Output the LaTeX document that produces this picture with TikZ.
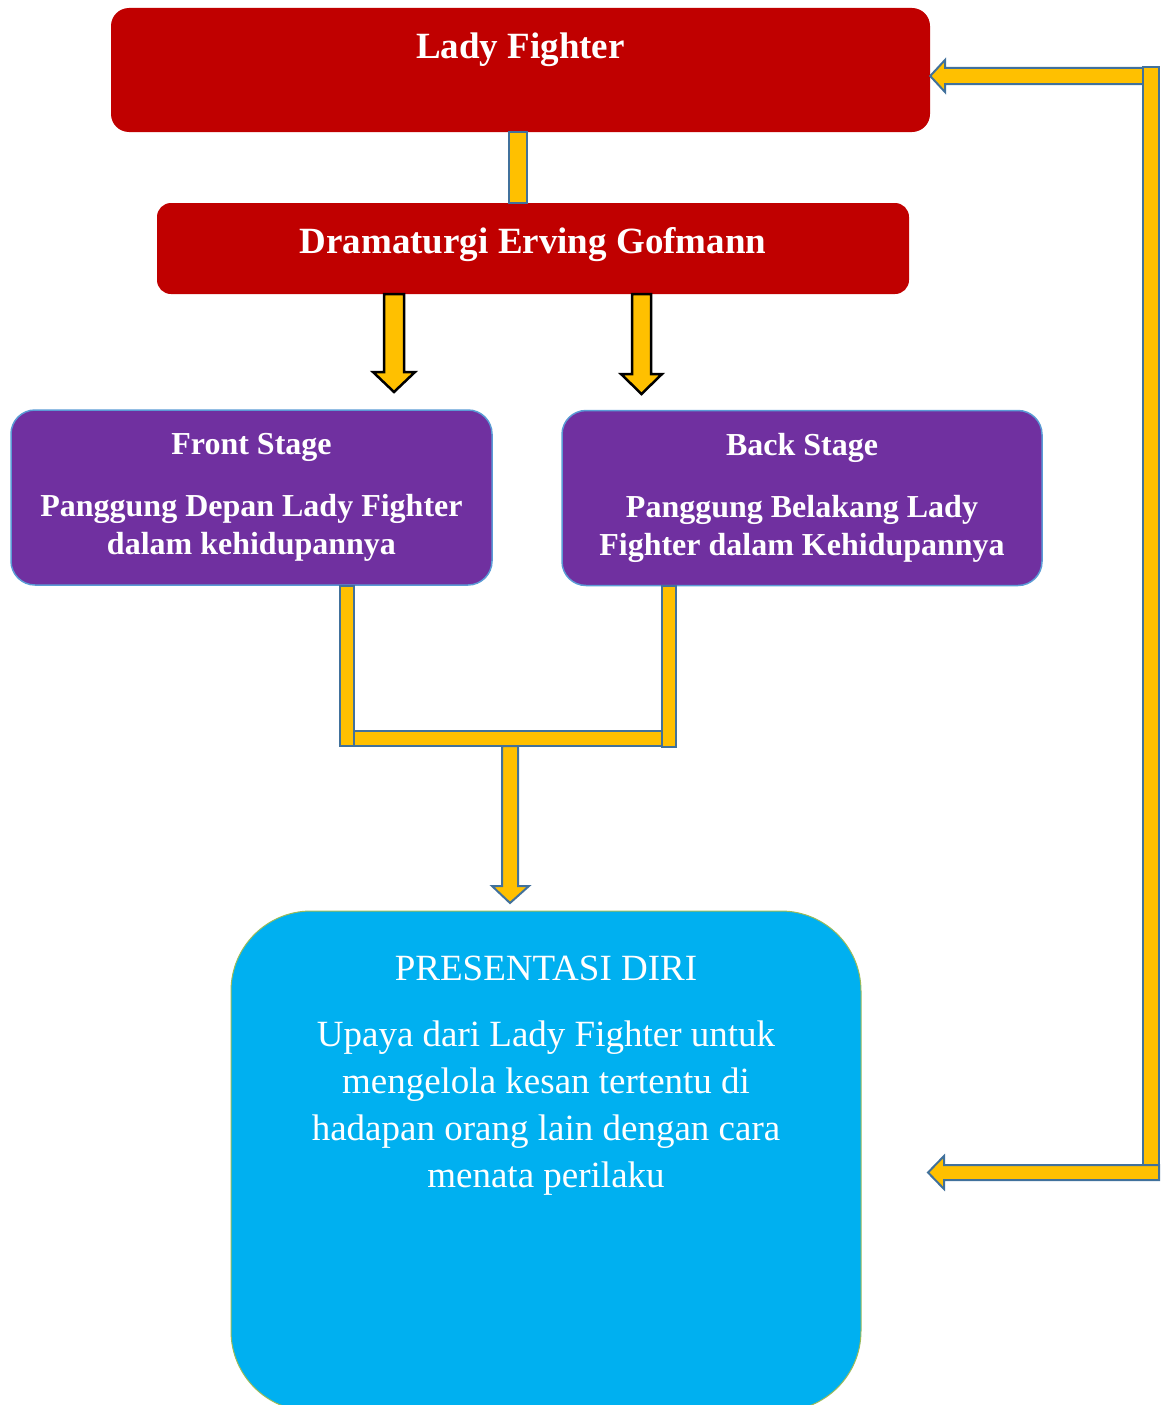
\documentclass[tikz,border=0pt]{standalone}
\usepackage{fontspec}
\setmainfont{Liberation Serif}
\usetikzlibrary{positioning}

\definecolor{ladyred}{HTML}{C00000}
\definecolor{stagepurple}{HTML}{7030A0}
\definecolor{stageedge}{HTML}{5B9BD5}
\definecolor{selfblue}{HTML}{00B0F0}
\definecolor{selfedge}{HTML}{9BBB59}
\definecolor{baryellow}{HTML}{FFC000}
\definecolor{baredge}{HTML}{41719C}

\begin{document}
\begin{tikzpicture}[x=1pt, y=-1pt,
  redbox/.style={rectangle, fill=ladyred, text=white, inner sep=0pt, font=\fontsize{37}{44}\selectfont\bfseries},
  stagebox/.style={rectangle, rounded corners=24pt, fill=stagepurple, draw=stageedge, line width=1.5pt, text=white, inner sep=0pt, align=center, minimum width=480pt, minimum height=175pt, font=\fontsize{32}{38}\selectfont\bfseries},
  selfbox/.style={rectangle, rounded corners=80pt, fill=selfblue, draw=selfedge, line width=1pt, minimum width=630pt, minimum height=500pt},
  selftext/.style={text=white, inner sep=0pt, align=center, font=\fontsize{37}{46.7}\selectfont},
  ybar/.style={fill=baryellow, draw=baredge, line width=2pt, line join=miter},
  karrow/.style={fill=baryellow, draw=black, line width=2.5pt, line join=miter}]
  \useasboundingbox (0,0) rectangle (1160,1405);
  \clip (0,0) rectangle (1160,1405);

  \node[redbox, rounded corners=18pt, minimum width=819pt, text height=51pt, text depth=73pt] (lady) at (520.5,70) {Lady Fighter};
  \node[redbox, rounded corners=14pt, minimum width=752pt, text height=50.5pt, text depth=40.5pt] (drama) at (533,248.5) {Dramaturgi Erving Gofmann};
  \node[stagebox, minimum width=481pt] (front) at (251.5,497.5) {Front Stage\\[24pt]Panggung Depan Lady Fighter\\dalam kehidupannya};
  \node[stagebox] (back) at (802,498) {Back Stage\\[24pt]Panggung Belakang Lady\\Fighter dalam Kehidupannya};
  \node[selfbox] (self) at (546,1161) {};
  \node[selftext, below=45pt of self.north] (selfnote) {PRESENTASI DIRI\\[20pt]Upaya dari Lady Fighter untuk\\mengelola kesan tertentu di\\hadapan orang lain dengan cara\\menata perilaku};

  \draw[ybar] (lady.south -| 509,0) rectangle (drama.north -| 527,0);

  \draw[karrow] (drama.south -| 384,0) -- (384,372) -- (373,372) -- (394,392) -- (415,372) -- (404,372) -- (drama.south -| 404,0) -- cycle;
  \draw[karrow] (drama.south -| 632,0) -- (632,374) -- (621,374) -- (641.5,394) -- (662,374) -- (651,374) -- (drama.south -| 651,0) -- cycle;

  \draw[ybar] (front.south -| 340,0) rectangle (354,746);
  \draw[ybar] (354,731) rectangle (662,746);
  \draw[ybar] (back.south -| 662,0) rectangle (676,747);
  \draw[ybar] (502,746) -- (502,886) -- (492,886) -- (510,903) -- (529,886) -- (518,886) -- (518,746) -- cycle;

  \draw[ybar] (1143,68) -- (945,68) -- (945,60) -- (lady.east |- 0,76) -- (945,92) -- (945,84) -- (1143,84) -- cycle;
  \draw[ybar] (1143,67) rectangle (1159,1165);
  \draw[ybar] (1159,1165) -- (944,1165) -- (944,1156) -- (928,1172.5) -- (944,1189) -- (944,1180) -- (1159,1180) -- cycle;
\end{tikzpicture}
\end{document}
